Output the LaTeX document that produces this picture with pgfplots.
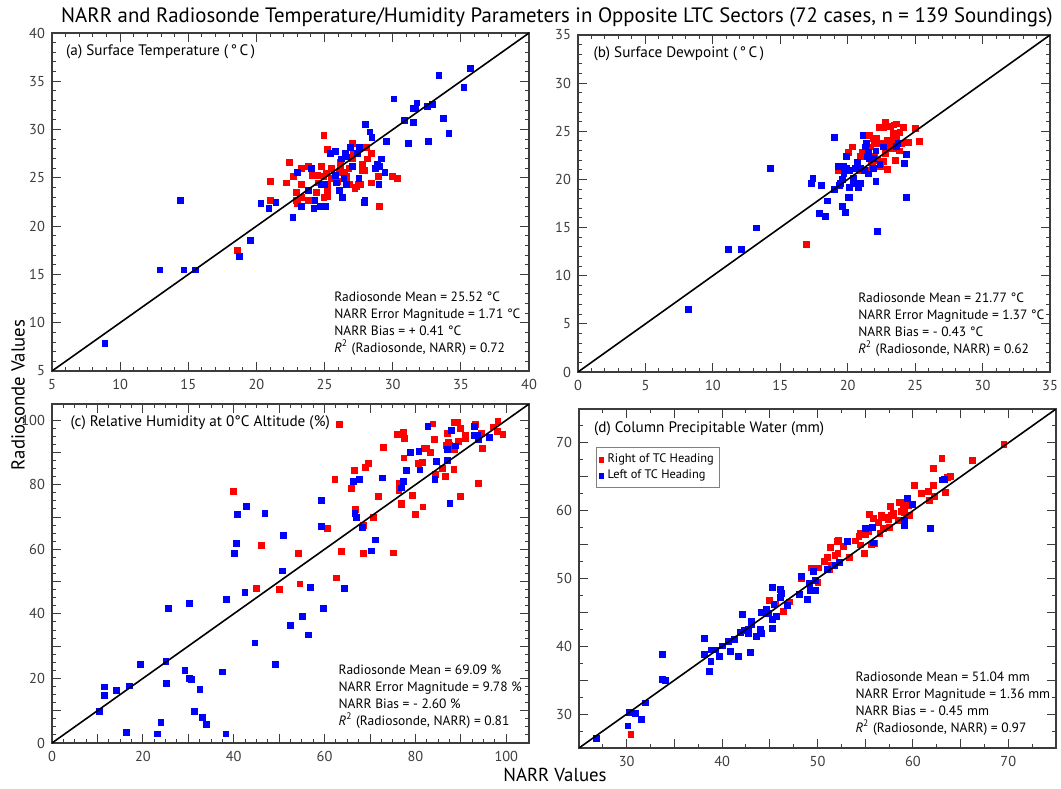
\documentclass[border=0pt]{standalone}
\usepackage{fontspec}
\setmainfont{PT Sans}
\usepackage{pgfplots}
\usepackage{pgfplotstable}
\pgfplotsset{compat=1.18}

% ---------------- Panel (a) Surface temperature ----------------
\pgfplotstableread{
x y
18.57 17.5
21.0 24.7
21.0 22.7
22.2 24.5
22.4 26.6
22.7 25.2
22.9 23.5
22.9 22.7
23.0 22.35
23.3 24.36
23.3 26.0
23.26 22.97
23.78 26.2
23.78 22.7
23.95 22.7
24.07 25.3
24.36 23.5
24.44 25.3
24.5 24.5
24.73 26.2
24.93 29.4
24.93 25.2
24.93 22.97
25.1 25.5
25.2 28.0
25.2 24.36
25.2 23.7
25.2 23.1
25.5 26.0
25.5 24.95
25.9 24.7
26.05 25.6
26.15 26.0
26.15 26.6
26.45 25.57
26.57 25.2
26.6 24.8
26.76 26.0
26.8 24.36
27.0 28.6
27.0 27.0
27.05 27.6
27.2 23.9
27.3 24.1
27.45 24.36
27.6 24.36
27.74 26.4
27.74 25.8
27.93 25.8
28.03 28.2
28.1 27.0
28.4 27.6
28.4 24.5
28.9 25.2
29.0 22.1
29.94 25.2
30.3 24.95
}\aRed
\pgfplotstableread{
x y
8.86 7.89
12.9 15.5
14.4 22.7
14.66 15.5
15.5 15.5
18.74 16.9
19.55 18.55
20.3 22.35
20.9 21.9
21.4 22.5
22.65 20.9
22.97 25.57
23.26 22.1
23.78 23.7
24.0 26.0
24.27 22.7
24.19 21.9
24.7 22.1
24.73 24.36
24.97 24.36
25.05 22.1
25.4 27.6
25.8 27.8
25.86 24.5
25.8 25.3
26.05 23.7
26.2 27.0
26.3 22.97
26.4 24.95
26.5 27.6
26.6 27.2
26.6 24.36
26.9 28.2
27.0 26.2
27.4 27.6
27.56 28.2
27.5 24.95
27.9 22.5
27.93 22.7
28.0 30.6
28.3 29.8
28.45 29.2
28.7 26.0
28.84 26.4
29.0 26.2
28.96 24.36
29.16 27.0
29.4 25.57
29.5 28.8
30.06 33.2
30.84 31.0
31.1 28.6
31.48 32.2
31.48 30.8
31.65 32.2
31.75 32.8
32.5 32.4
32.87 32.6
32.6 28.8
33.36 35.6
33.7 31.2
34.1 29.6
35.2 34.4
35.7 36.4
}\aBlue

% ---------------- Panel (b) Surface dewpoint ----------------
\pgfplotstableread{
x y
16.9 13.3
19.3 21.0
20.0 22.8
20.3 23.4
20.8 21.0
20.9 22.4
21.05 22.8
21.4 21.0
21.56 24.6
21.66 23.4
21.7 21.8
21.8 21.4
21.86 24.3
21.96 23.8
22.0 22.4
22.1 24.3
22.2 22.0
22.3 25.4
22.4 21.4
22.5 23.8
22.6 25.4
22.65 21.9
22.8 26.0
22.8 22.7
22.9 21.1
22.9 24.1
23.05 23.4
23.15 25.5
23.2 24.1
23.3 23.2
23.35 24.8
23.4 25.7
23.45 24.1
23.5 22.0
23.6 25.8
23.6 24.5
23.8 23.0
23.85 24.9
23.95 23.8
24.1 25.4
24.3 23.9
24.5 23.9
25.0 25.3
25.3 24.0
}\bRed
\pgfplotstableread{
x y
8.14 6.54
11.14 12.8
12.08 12.8
13.23 15.0
14.27 21.14
17.3 19.6
17.4 20.1
17.9 16.5
18.0 19.4
18.3 16.2
18.46 17.8
19.0 24.4
19.0 19.0
19.3 21.4
19.38 19.4
19.45 19.6
19.6 17.2
19.6 20.0
19.7 21.4
19.7 21.0
19.7 20.6
19.8 16.6
19.9 22.4
19.9 21.2
20.0 18.2
20.1 18.2
20.1 19.2
20.1 21.0
20.4 20.2
20.4 19.6
20.55 21.2
20.7 21.8
20.75 19.2
20.9 19.6
20.9 21.2
21.1 24.6
21.2 21.0
21.3 23.4
21.36 23.8
21.4 22.4
21.5 20.6
21.5 22.8
21.6 22.2
21.86 22.2
21.9 21.2
22.06 19.8
22.06 23.0
22.2 14.6
22.36 21.6
22.65 23.4
23.6 23.5
23.7 23.8
24.2 21.7
24.3 22.6
24.3 18.2
}\bBlue

% ---------------- Panel (c) Relative humidity ----------------
\pgfplotstableread{
x y
39.9 78.1
44.9 47.9
46.1 61.4
50.0 47.7
54.1 58.9
54.5 49.4
60.6 66.5
62.2 81.8
62.5 51.2
63.2 98.8
63.6 59.5
65.9 79.0
66.5 84.6
66.8 72.5
68.4 67.4
68.5 58.8
69.0 85.5
69.6 86.8
70.7 70.0
71.8 76.4
72.9 91.6
75.1 59.0
75.9 95.6
76.3 80.4
76.3 78.3
76.8 74.4
76.9 74.0
77.2 96.2
77.5 94.5
77.4 88.4
78.7 90.0
79.3 76.7
80.0 71.0
80.5 86.8
81.4 87.1
81.6 73.2
81.8 91.4
82.3 91.4
83.2 90.1
83.8 98.9
84.1 94.2
84.3 83.2
85.8 85.1
86.5 82.7
86.7 92.3
86.9 96.1
87.2 93.2
87.5 92.3
88.4 84.9
88.5 91.0
88.5 99.4
89.1 99.4
89.4 93.5
89.9 76.5
89.9 97.6
90.9 95.5
91.0 94.3
93.2 98.7
93.8 80.6
94.4 95.9
94.6 91.4
97.1 98.0
97.9 96.7
98.1 99.8
99.2 95.8
}\cRed
\pgfplotstableread{
x y
10.3 9.9
11.5 17.5
11.4 14.9
14.1 16.4
16.3 3.3
16.9 17.8
19.4 24.5
23.2 2.9
23.9 6.4
25.0 25.3
25.1 18.6
25.5 41.7
29.2 22.5
30.1 43.4
30.1 20.2
30.7 19.8
31.2 10.0
32.5 16.8
33.1 8.0
34.0 5.9
37.4 22.1
38.2 2.9
38.4 44.6
40.0 58.7
40.5 61.8
40.7 70.9
42.4 46.7
42.7 73.4
44.6 31.1
46.8 71.3
49.1 24.5
50.6 53.4
50.9 64.3
52.4 36.5
55.1 39.2
56.4 33.6
56.8 48.3
59.3 75.2
59.3 67.3
59.7 41.8
64.3 48.1
66.2 81.2
66.6 71.3
66.9 70.0
67.6 81.8
68.3 66.8
70.2 59.6
71.2 63.0
72.6 82.2
76.8 79.1
77.3 81.2
78.0 84.6
78.9 90.0
80.7 90.4
80.9 84.7
82.7 98.2
84.2 81.8
84.5 87.4
87.0 91.0
87.0 87.7
87.5 74.4
87.8 96.8
88.7 92.1
92.9 98.2
92.8 95.3
93.5 95.3
93.8 94.0
96.3 94.7
}\cBlue

% ---------------- Panel (d) Column precipitable water ----------------
\pgfplotstableread{
x y
30.4 27.1
44.9 46.8
45.6 46.3
46.4 45.2
47.0 46.6
48.3 50.1
49.3 51.6
50.0 49.5
50.1 51.6
50.7 52.6
51.0 53.1
51.25 51.3
51.3 54.6
51.4 52.0
51.8 53.5
52.0 55.5
52.1 53.8
52.2 55.7
52.7 54.8
53.3 53.1
53.9 55.6
54.3 56.2
54.5 55.0
54.5 56.7
54.9 53.8
55.0 56.5
55.3 57.0
55.4 59.5
55.6 55.0
55.8 58.9
55.9 55.2
56.35 58.3
56.5 56.7
56.7 59.3
56.9 57.4
57.05 59.1
57.4 58.8
57.5 57.6
57.6 60.7
57.7 59.4
57.95 59.7
58.4 58.6
58.5 61.3
58.75 60.0
58.85 61.3
59.0 60.3
59.1 59.8
59.5 60.8
59.6 59.3
60.1 63.8
60.9 62.6
61.6 62.9
61.7 61.6
62.1 66.3
62.1 63.8
62.25 62.1
63.0 67.8
63.4 62.8
63.6 64.9
63.9 65.1
66.2 67.5
69.5 69.8
}\dRed
\pgfplotstableread{
x y
26.8 26.5
30.1 28.3
30.2 30.3
30.9 30.2
31.5 29.3
31.9 31.7
33.7 38.8
33.7 35.2
34.0 35.0
38.1 41.2
38.1 38.9
38.6 36.3
38.8 37.8
38.8 39.5
39.3 39.5
39.7 38.6
40.0 40.1
40.6 40.8
40.8 39.3
41.25 41.1
41.7 38.5
41.9 42.1
42.1 44.7
42.3 42.4
42.7 41.9
42.7 42.5
42.9 39.2
43.0 43.3
43.05 43.8
43.6 41.5
44.0 42.5
44.1 45.1
44.1 42.0
44.6 45.5
44.8 44.9
45.2 48.7
45.2 44.0
45.2 42.7
45.7 44.5
45.4 46.2
46.1 48.4
46.2 47.9
46.1 47.3
46.8 46.1
48.05 47.7
48.3 50.3
48.9 47.0
49.1 49.3
49.2 48.3
49.5 51.1
49.6 48.3
49.8 48.3
49.75 49.75
51.0 51.4
51.8 52.0
52.3 52.4
53.1 55.5
55.0 57.4
55.7 57.6
55.8 55.3
59.1 57.8
59.1 58.7
59.4 61.9
59.9 61.0
61.8 57.4
63.0 64.6
63.3 64.7
}\dBlue

\definecolor{axgray}{HTML}{3C3C3C}
\definecolor{ptred}{HTML}{FF0000}
\definecolor{ptblue}{HTML}{0000FF}

\pgfplotsset{
  panel/.style={
    scale only axis,
    tick align=inside,
    xtick pos=both, ytick pos=both,
    major tick length=4.5pt, minor tick length=2.2pt,
    every tick/.style={axgray, line width=0.5pt},
    axis line style={axgray, line width=0.6pt},
    tick label style={font=\fontsize{7.2}{8}\selectfont, text=axgray},
    /pgf/number format/assume math mode=true,
    xticklabel style={yshift=-0.5pt},
    clip mode=individual,
  },
  redpts/.style={only marks, mark=square*, mark size=1.45pt, mark options={draw=ptred, fill=ptred, line width=0.1pt}},
  bluepts/.style={only marks, mark=square*, mark size=1.45pt, mark options={draw=ptblue, fill=ptblue, line width=0.1pt}},
  diag/.style={black, line width=0.8pt, forget plot},
}
\newcommand{\ptitle}{\fontsize{7.6}{9}\selectfont}
\newcommand{\pstat}{\fontsize{6.75}{8.5}\selectfont}

\begin{document}
\begin{tikzpicture}
\useasboundingbox (0,0) rectangle (530.5pt,394pt);

% Title
\node[font=\fontsize{10.4}{12}\selectfont] at (278.5pt,385.5pt) {NARR and Radiosonde Temperature/Humidity Parameters in Opposite LTC Sectors (72 cases, n = 139 Soundings)};
\node[font=\fontsize{9.4}{11}\selectfont, rotate=90] at (9pt,196.5pt) {Radiosonde Values};
\node[font=\fontsize{9.4}{11}\selectfont] at (277.5pt,6.5pt) {NARR Values};

% (a)
\begin{axis}[panel, at={(26pt,208.5pt)}, anchor=south west, width=238.5pt, height=169pt,
  xmin=5, xmax=40, ymin=5, ymax=40,
  xtick={5,10,...,40}, ytick={5,10,...,40}, minor tick num=4]
\addplot[redpts] table {\aRed};
\addplot[bluepts] table {\aBlue};
\addplot[diag] coordinates {(5,5) (40,40)};
\node[anchor=west, font=\ptitle, inner sep=0] at (rel axis cs:0.029,0.944) {(a) Surface Temperature (\,°\,C\,)};
\node[anchor=south west, align=left, font=\pstat, inner sep=0] at (rel axis cs:0.591,0.045) {Radiosonde Mean = 25.52 °C\\NARR Error Magnitude = 1.71 °C\\NARR Bias = + 0.41 °C\\\textit{R}\textsuperscript{2} (Radiosonde, NARR) = 0.72};
\end{axis}

% (b)
\begin{axis}[panel, at={(289pt,208pt)}, anchor=south west, width=236pt, height=168.5pt,
  xmin=0, xmax=35, ymin=0, ymax=35,
  xtick={0,5,...,35}, ytick={0,5,...,35}, minor tick num=4]
\addplot[redpts] table {\bRed};
\addplot[bluepts] table {\bBlue};
\addplot[diag] coordinates {(0,0) (35,35)};
\node[anchor=west, font=\ptitle, inner sep=0] at (rel axis cs:0.032,0.944) {(b) Surface Dewpoint (\,°\,C\,)};
\node[anchor=south west, align=left, font=\pstat, inner sep=0] at (rel axis cs:0.593,0.045) {Radiosonde Mean = 21.77 °C\\NARR Error Magnitude = 1.37 °C\\NARR Bias = - 0.43 °C\\\textit{R}\textsuperscript{2} (Radiosonde, NARR) = 0.62};
\end{axis}

% (c)
\begin{axis}[panel, at={(26pt,22.5pt)}, anchor=south west, width=238.5pt, height=169.5pt,
  xmin=0, xmax=105, ymin=0, ymax=105,
  xtick={0,10,...,100}, xticklabels={0,,20,,40,,60,,80,,100},
  ytick={0,10,...,100}, yticklabels={0,,20,,40,,60,,80,,100}, minor tick num=3]
\addplot[redpts] table {\cRed};
\addplot[bluepts] table {\cBlue};
\addplot[diag] coordinates {(0,0) (105,105)};
\node[anchor=west, font=\ptitle, inner sep=0] at (rel axis cs:0.038,0.944) {(c) Relative Humidity at 0°C Altitude (\%)};
\node[anchor=south west, align=left, font=\pstat, inner sep=0] at (rel axis cs:0.600,0.042) {Radiosonde Mean = 69.09 \%\\NARR Error Magnitude = 9.78 \%\\NARR Bias = - 2.60 \%\\\textit{R}\textsuperscript{2} (Radiosonde, NARR) = 0.81};
\end{axis}

% (d)
\begin{axis}[panel, at={(289.5pt,20pt)}, anchor=south west, width=238.5pt, height=169.5pt,
  xmin=25, xmax=75, ymin=25, ymax=75,
  xtick={25,30,...,75}, xticklabels={,30,,40,,50,,60,,70,},
  ytick={25,30,...,75}, yticklabels={,30,,40,,50,,60,,70,}, minor tick num=1,
  legend style={at={(0.036,0.888)}, anchor=north west, draw=gray, line width=0.6pt,
    font=\fontsize{6.2}{7}\selectfont, inner sep=1pt, row sep=-2pt,
    /tikz/every even column/.append style={column sep=0pt}},
  legend image post style={mark size=1.2pt},
  legend cell align=left]
\addplot[redpts] table {\dRed};
\addlegendentry{Right of TC Heading}
\addplot[bluepts] table {\dBlue};
\addlegendentry{Left of TC Heading}
\addplot[diag] coordinates {(25,25) (75,75)};
\node[anchor=west, font=\ptitle, inner sep=0] at (rel axis cs:0.031,0.941) {(d) Column Precipitable Water (mm)};
\node[anchor=south west, align=left, font=\pstat, inner sep=0] at (rel axis cs:0.579,0.036) {Radiosonde Mean = 51.04 mm\\NARR Error Magnitude = 1.36 mm\\NARR Bias = - 0.45 mm\\\textit{R}\textsuperscript{2} (Radiosonde, NARR) = 0.97};
\end{axis}
\end{tikzpicture}
\end{document}
